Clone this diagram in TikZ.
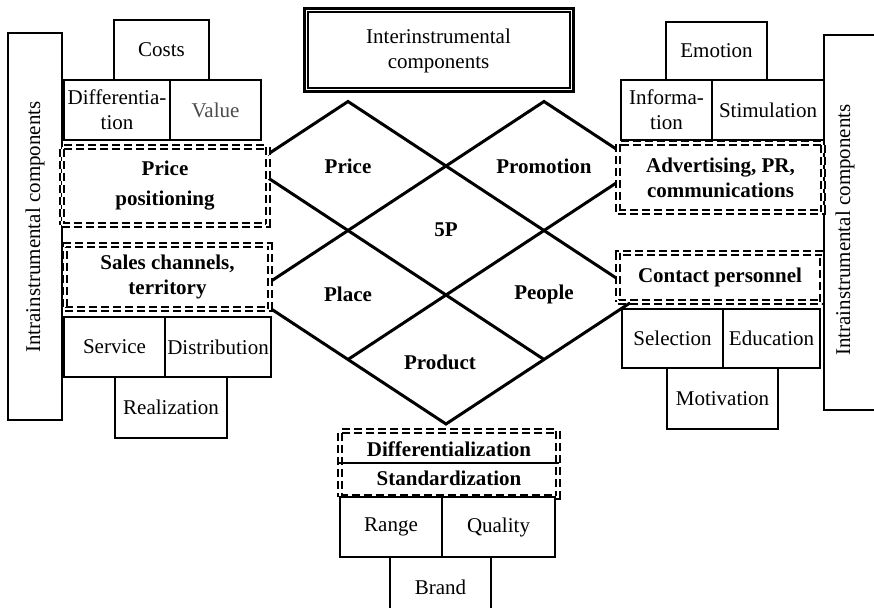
\documentclass[tikz,border=0pt]{standalone}
\usepackage{fontspec}
\setmainfont{Liberation Serif}
\begin{document}
\begin{tikzpicture}[x=1pt,y=-1pt,
  every node/.style={font=\fontsize{21}{25}\selectfont, align=center, inner sep=0pt},
  sz/.style 2 args={minimum width=#1pt, minimum height=#2pt},
  sbox/.style={draw, line width=1.6pt, fill=white},
  dbox/.style={draw, double, double distance=1.6pt, line width=2.1pt, dash pattern=on 8pt off 4pt, fill=white},
  dline/.style={line width=3pt, line join=miter},
  lbl/.style={font=\fontsize{21}{25}\selectfont\bfseries}]
\useasboundingbox (0,0) rectangle (874,607);

% lattice of the 5P diamonds
\coordinate (a0) at (348,101.5);
\coordinate (a1) at (544,101.5);
\coordinate (b0) at (250,166);
\coordinate (b4) at (642,166);
\coordinate (d0) at (250,295);
\coordinate (d4) at (642,295);
\coordinate (e1) at (348,359.5);
\coordinate (e3) at (544,359.5);
\coordinate (f2) at (446,424);

\draw[dline] (b0) -- (a0) -- (d4);
\draw[dline] (d0) -- (a1) -- (b4);
\draw[dline] (b0) -- (e3);
\draw[dline] (e1) -- (b4);
\draw[dline] (d0) -- (f2) -- (d4);

\node[lbl] (lprice) at (348,166) {Price};
\node[lbl] (lpromo) at (544,166) {Promotion};
\node[lbl] (l5p) at (446,230) {5P};
\node[lbl] (lplace) at (348,294) {Place};
\node[lbl] (lpeople) at (544,294) {People};
\node[lbl] (lproduct) at (440,362) {Product};

% interinstrumental box
\node[draw, line width=3pt, fill=white, sz={269}{83}] (inter) at (438.5,50.5) {Interinstrumental\\components};
\draw[line width=2pt] ([shift={(5pt,-5pt)}]inter.north west) rectangle ([shift={(-5pt,5pt)}]inter.south east);

% left side
\node[sbox, sz={54}{387}] (lbar) at (35,226.5) {};
\node[rotate=90] (lbartext) at (35,227) {Intrainstrumental components};
\node[sbox, sz={95}{60}] (costs) at (161.5,50) {Costs};
\node[sbox, sz={106}{60}] (diff) at (117,110) {Differentia-\\tion};
\node[sbox, sz={91}{60}, text=black!70] (value) at (215.5,110) {Value};
\node[dbox, sz={206}{78}, lbl] (pricepos) at (165,186) {Price\\[5pt]positioning};
\node[dbox, sz={205}{64}, lbl] (sales) at (167.5,277) {Sales channels,\\territory};
\node[sbox, sz={101}{60}] (service) at (114.5,347) {Service};
\node[sbox, sz={106}{60}] (distrib) at (218,347) {Distribution};
\node[sbox, sz={112}{61}] (realiz) at (171,407.5) {Realization};

% right side
\node[sbox, sz={56}{375}] (rbar) at (852,222.5) {};
\node[rotate=90] (rbartext) at (845,230) {Intrainstrumental components};
\node[sbox, sz={101}{58}] (emotion) at (716.5,51) {Emotion};
\node[sbox, sz={91}{60}] (inform) at (666.5,110) {Informa-\\tion};
\node[sbox, sz={112}{60}] (stimul) at (768,110) {Stimulation};
\node[dbox, sz={205}{69}, lbl] (advert) at (720.5,177.5) {Advertising, PR,\\communications};
\node[dbox, sz={204}{49}, lbl] (contact) at (720,277.5) {Contact personnel};
\node[sbox, sz={101}{59}] (select) at (672.5,338.5) {Selection};
\node[sbox, sz={97}{59}] (educ) at (771.5,338.5) {Education};
\node[sbox, sz={111}{61}] (motiv) at (722.5,398.5) {Motivation};

% bottom
\node[dbox, sz={218}{66}] (diffstd) at (449,464) {};
\draw[line width=1.5pt] (diffstd.west |- 0,463) -- (diffstd.east |- 0,463);
\node[lbl] (dtext) at (449,449) {Differentialization};
\node[lbl] (stext) at (449,478) {Standardization};
\node[sbox, sz={102}{60}] (range) at (391,527) {Range};
\node[sbox, sz={113}{60}] (quality) at (498.5,527) {Quality};
\node[sbox, sz={101}{66}] (brand) at (440.5,590) {};
\node (brandtext) at (440.5,587) {Brand};
\end{tikzpicture}
\end{document}
